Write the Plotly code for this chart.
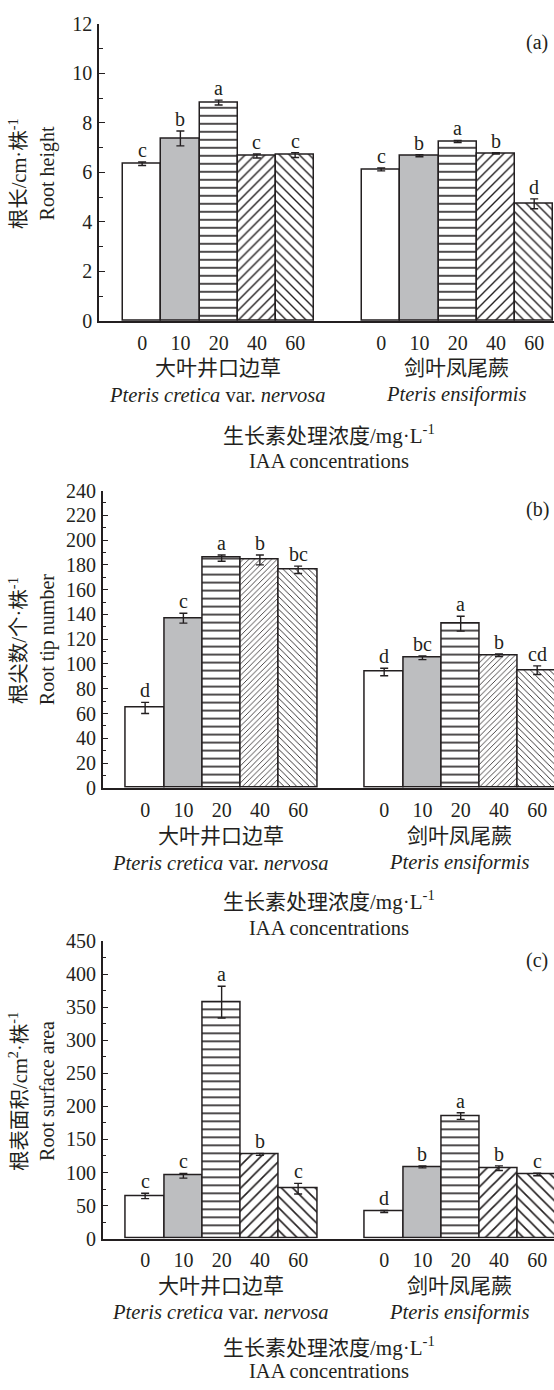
import plotly.graph_objects as go

# ---------------- data ----------------
concentrations = ["0", "10", "20", "40", "60"]
species_cn = ["大叶井口边草", "剑叶凤尾蕨"]
species_lat = ["<i>Pteris cretica</i> var. <i>nervosa</i>", "<i>Pteris ensiformis</i>"]

# (a) root height, cm per plant
height_cretica = [6.35, 7.37, 8.82, 6.66, 6.70]
height_cretica_err = [0.07, 0.30, 0.10, 0.08, 0.10]
height_ensiformis = [6.12, 6.67, 7.25, 6.77, 4.73]
height_ensiformis_err = [0.06, 0.04, 0.04, 0.03, 0.20]
height_letters_cretica = ["c", "b", "a", "c", "c"]
height_letters_ensiformis = ["c", "b", "a", "b", "d"]

# (b) root tip number per plant
tips_cretica = [64.5, 137.0, 185.5, 184.0, 176.0]
tips_cretica_err = [4.5, 4.0, 2.5, 4.0, 3.0]
tips_ensiformis = [93.5, 105.0, 132.5, 107.0, 95.0]
tips_ensiformis_err = [3.0, 1.5, 6.0, 1.0, 3.5]
tips_letters_cretica = ["d", "c", "a", "b", "bc"]
tips_letters_ensiformis = ["d", "bc", "a", "b", "cd"]

# (c) root surface area, cm2 per plant
surf_cretica = [64.5, 95.0, 358.0, 127.5, 75.5]
surf_cretica_err = [4.0, 3.5, 24.0, 1.5, 8.0]
surf_ensiformis = [41.0, 108.5, 185.5, 106.5, 97.0]
surf_ensiformis_err = [1.5, 1.5, 5.0, 3.5, 2.0]
surf_letters_cretica = ["c", "c", "a", "b", "c"]
surf_letters_ensiformis = ["d", "b", "a", "b", "c"]

y_titles_cn = ["根长/cm·株<sup>-1</sup>", "根尖数/个·株<sup>-1</sup>", "根表面积/cm<sup>2</sup>·株<sup>-1</sup>"]
y_titles_en = ["Root height", "Root tip number", "Root surface area"]
panel_tags = ["(a)", "(b)", "(c)"]
x_title_cn = "生长素处理浓度/mg·L<sup>-1</sup>"
x_title_en = "IAA concentrations"

# ---------------- layout constants ----------------
W, H = 554, 1390
FONT = "Liberation Serif, 'Noto Sans CJK SC', serif"
INK = "#231f20"
GRAY = "#bdbec0"
UNIT = 38.25          # px per bar
GROUP_STEP = 6.25     # bar units between group starts
FS = 20

panels = [
    dict(vals=(height_cretica, height_ensiformis), errs=(height_cretica_err, height_ensiformis_err),
         letters=(height_letters_cretica, height_letters_ensiformis),
         yrange=[0, 12], dtick=2, minor=1, ytop=13, ybot=315, axis_x=99, first_left=123,
         hatch=(8, 7, 7), under=(48, 75, 115, 142)),
    dict(vals=(tips_cretica, tips_ensiformis), errs=(tips_cretica_err, tips_ensiformis_err),
         letters=(tips_letters_cretica, tips_letters_ensiformis),
         yrange=[0, 240], dtick=20, minor=10, ytop=487.3, ybot=789.3, axis_x=102.7, first_left=126,
         hatch=(8, 4, 4.5), under=(49, 76, 115, 142)),
    dict(vals=(surf_cretica, surf_ensiformis), errs=(surf_cretica_err, surf_ensiformis_err),
         letters=(surf_letters_cretica, surf_letters_ensiformis),
         yrange=[0, 450], dtick=50, minor=25, ytop=945.3, ybot=1247.3, axis_x=102.7, first_left=126,
         hatch=(8, 8, 8), under=(48, 75, 110, 135)),
]

fig = go.Figure()
annotations = []
layout = dict(width=W, height=H, margin=dict(l=0, r=0, t=0, b=0), autosize=False,
              paper_bgcolor="white", plot_bgcolor="white", showlegend=False,
              font=dict(family=FONT, size=FS, color=INK), bargap=0, barmode="overlay")

def px_x(p):
    return p / W

def px_y(p):
    return 1 - p / H

for pi, p in enumerate(panels):
    sx = "" if pi == 0 else str(pi + 1)
    xref, yref = "x" + sx, "y" + sx
    center0 = p["first_left"] + UNIT / 2
    xr = [(p["axis_x"] - center0) / UNIT, (W - center0) / UNIT]
    positions = [[g * GROUP_STEP + i for g in range(2)] for i in range(len(concentrations))]
    s20, s40, s60 = p["hatch"]
    styles = [
        dict(color="white"),
        dict(color=GRAY),
        dict(color="white", pattern=dict(shape="-", size=s20, solidity=0.2, fgcolor=INK, bgcolor="white", fillmode="replace")),
        dict(color="white", pattern=dict(shape="/", size=s40, solidity=0.2, fgcolor=INK, bgcolor="white", fillmode="replace")),
        dict(color="white", pattern=dict(shape="\\", size=s60, solidity=0.2, fgcolor=INK, bgcolor="white", fillmode="replace")),
    ]
    for i, conc in enumerate(concentrations):
        ys = [p["vals"][g][i] for g in range(2)]
        es = [p["errs"][g][i] for g in range(2)]
        mk = dict(styles[i])
        mk["line"] = dict(color=INK, width=1.5)
        fig.add_trace(go.Bar(x=positions[i], y=ys, width=1.0, marker=mk,
                             error_y=dict(type="data", array=es, color=INK, thickness=1.4, width=4),
                             xaxis=xref, yaxis=yref, name=conc, hoverinfo="skip"))
        for g in range(2):
            annotations.append(dict(x=positions[i][g], y=ys[g] + es[g], xref=xref, yref=yref,
                                    text=p["letters"][g][i], showarrow=False, yanchor="bottom",
                                    yshift=-1, font=dict(size=FS)))
    tickvals = [g * GROUP_STEP + i for g in range(2) for i in range(len(concentrations))]
    ticktext = [c for g in range(2) for c in concentrations]
    layout["xaxis" + sx] = dict(domain=[px_x(p["axis_x"]), 1], range=xr, anchor=yref,
                                showline=True, linecolor=INK, linewidth=1.5, showgrid=False,
                                zeroline=False, ticks="", tickvals=tickvals, ticktext=ticktext,
                                ticklabelstandoff=3, tickfont=dict(size=FS), fixedrange=True)
    layout["yaxis" + sx] = dict(domain=[px_y(p["ybot"]), px_y(p["ytop"])], range=p["yrange"],
                                anchor=xref, showline=True, linecolor=INK, linewidth=1.5,
                                showgrid=False, zeroline=False, ticks="inside", ticklen=6,
                                tickwidth=1.3, tickcolor=INK, dtick=p["dtick"], tick0=0,
                                minor=dict(ticks="inside", ticklen=4, tickwidth=1.1, tickcolor=INK,
                                           dtick=p["minor"], showgrid=False),
                                ticklabelstandoff=1, tickfont=dict(size=FS), fixedrange=True)
    # y-axis titles (two lines)
    ymid = (p["ytop"] + p["ybot"]) / 2
    annotations.append(dict(x=px_x(18), y=px_y(ymid + 2), xref="paper", yref="paper",
                            text=y_titles_cn[pi], textangle=-90, showarrow=False,
                            font=dict(size=20.5), xanchor="center", yanchor="middle"))
    annotations.append(dict(x=px_x(47), y=px_y(ymid + 1), xref="paper", yref="paper",
                            text=y_titles_en[pi], textangle=-90, showarrow=False,
                            font=dict(size=20), xanchor="center", yanchor="middle"))
    # panel tag
    annotations.append(dict(x=px_x(537), y=px_y(p["ytop"] + 19), xref="paper", yref="paper",
                            text=panel_tags[pi], showarrow=False, font=dict(size=FS),
                            xanchor="center", yanchor="middle"))
    # species labels under groups
    d_cn, d_lat, d_t1, d_t2 = p["under"]
    for g in range(2):
        gx = p["first_left"] + UNIT / 2 + (g * GROUP_STEP + 2) * UNIT
        annotations.append(dict(x=px_x(gx - 1), y=px_y(p["ybot"] + d_cn), xref="paper", yref="paper",
                                text=species_cn[g], showarrow=False, font=dict(size=21),
                                xanchor="center", yanchor="middle"))
        annotations.append(dict(x=px_x(gx - 1), y=px_y(p["ybot"] + d_lat), xref="paper", yref="paper",
                                text=species_lat[g], showarrow=False, font=dict(size=20.5),
                                xanchor="center", yanchor="middle"))
    annotations.append(dict(x=px_x(329), y=px_y(p["ybot"] + d_t1), xref="paper", yref="paper",
                            text=x_title_cn, showarrow=False, font=dict(size=21),
                            xanchor="center", yanchor="middle"))
    annotations.append(dict(x=px_x(329), y=px_y(p["ybot"] + d_t2), xref="paper", yref="paper",
                            text=x_title_en, showarrow=False, font=dict(size=20.5),
                            xanchor="center", yanchor="middle"))

layout["annotations"] = annotations
fig.update_layout(**layout)
fig.write_html("out.html", config={"displayModeBar": False},
               post_script="document.body.style.margin='0';document.body.style.overflow='hidden';")
